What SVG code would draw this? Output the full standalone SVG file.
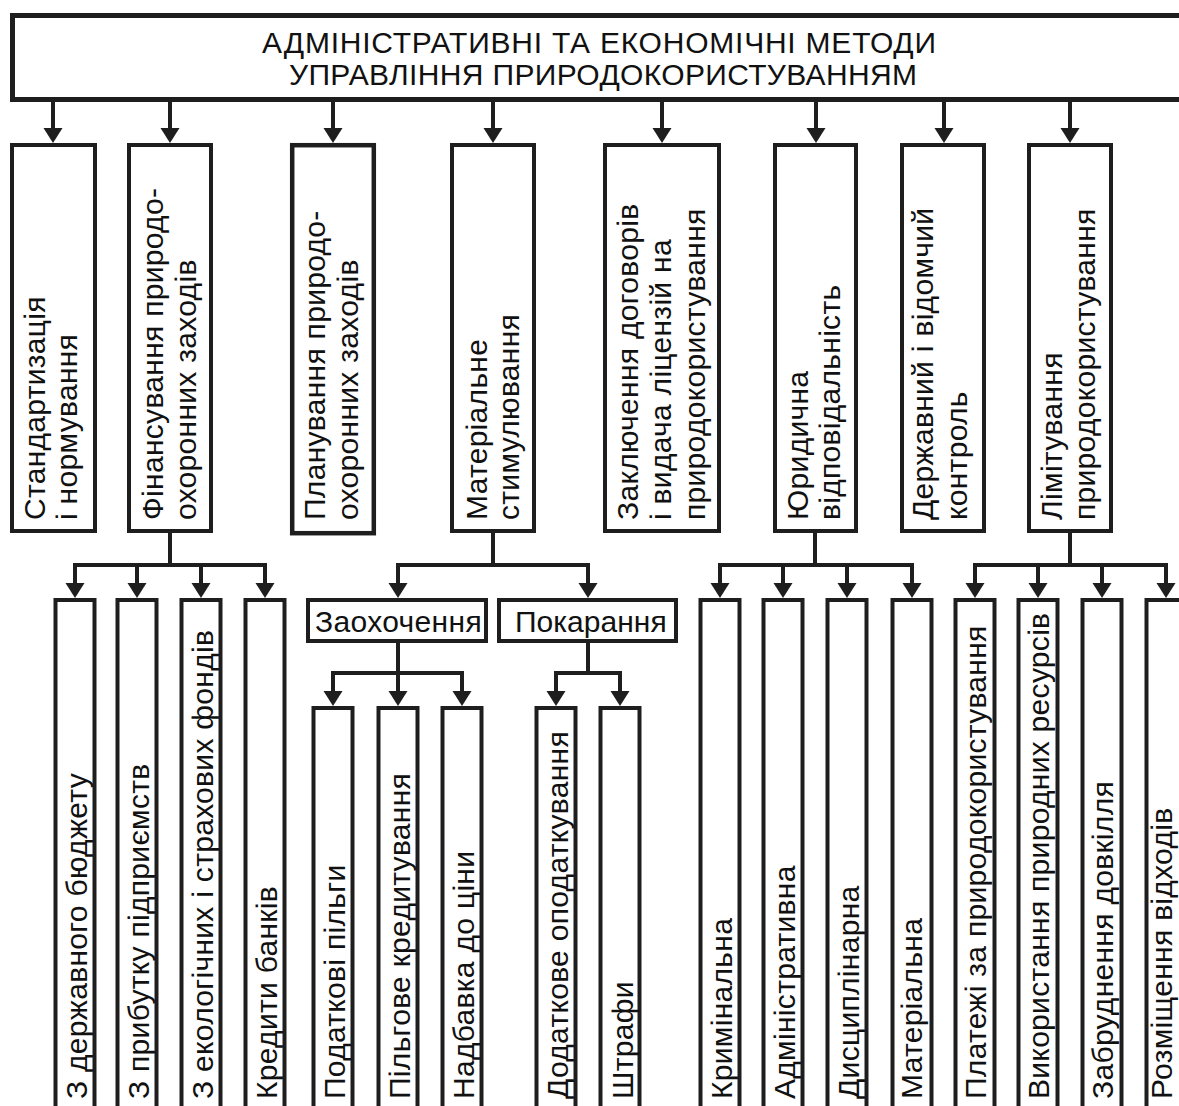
<svg xmlns="http://www.w3.org/2000/svg" width="1179" height="1106" viewBox="0 0 1179 1106">
<defs>
<style>
.bx{fill:#fff;stroke:#1e1e1e;stroke-width:4}
.hd{fill:#fff;stroke:#1e1e1e;stroke-width:5}
.ln{fill:none;stroke:#1e1e1e;stroke-width:4}
.bar{fill:none;stroke:#1e1e1e;stroke-width:4;stroke-linecap:square}
.ar{fill:none;stroke:#1e1e1e;stroke-width:4;marker-end:url(#ah)}
text{font-family:"Liberation Sans",Arial,sans-serif;fill:#111}
.t{font-size:30px;letter-spacing:0.3px}
.h{font-size:30px;text-anchor:middle}
</style>
<marker id="ah" viewBox="0 -10 16 20" refX="0" refY="0" markerWidth="16" markerHeight="20" markerUnits="userSpaceOnUse" orient="auto">
<path d="M0,-9.5 L15,0 L0,9.5 Z" fill="#1e1e1e"/>
</marker>
</defs>

<g id="header">
<rect class="hd" x="12.5" y="15.5" width="1200" height="84"/>
<text class="h" x="599" y="53" textLength="674" lengthAdjust="spacing">АДМІНІСТРАТИВНІ ТА ЕКОНОМІЧНІ МЕТОДИ</text>
<text class="h" x="603" y="85" textLength="628" lengthAdjust="spacing">УПРАВЛІННЯ ПРИРОДОКОРИСТУВАННЯМ</text>
</g>

<g id="n-standart">
<rect class="bx" x="12" y="145" width="83" height="386"/>
<text class="t" transform="translate(45,520) rotate(-90)">Стандартизація</text>
<text class="t" transform="translate(77,520) rotate(-90)">і нормування</text>
</g>
<g id="n-finans">
<rect class="bx" x="129" y="145" width="82" height="386"/>
<text class="t" transform="translate(163,520) rotate(-90)">Фінансування природо-</text>
<text class="t" transform="translate(196,520) rotate(-90)">охоронних заходів</text>
</g>
<g id="n-planuv">
<rect class="bx" x="292.2" y="145.2" width="81.6" height="388" style="stroke-width:4.5"/>
<text class="t" transform="translate(325,520) rotate(-90)">Планування природо-</text>
<text class="t" transform="translate(358,520) rotate(-90)">охоронних заходів</text>
</g>
<g id="n-mater">
<rect class="bx" x="452" y="145" width="82" height="386"/>
<text class="t" transform="translate(487,520) rotate(-90)">Матеріальне</text>
<text class="t" transform="translate(519,520) rotate(-90)">стимулювання</text>
</g>
<g id="n-zaklyuch">
<rect class="bx" x="605" y="145" width="114" height="386"/>
<text class="t" transform="translate(638,520) rotate(-90)">Заключення договорів</text>
<text class="t" transform="translate(671,520) rotate(-90)">і видача ліцензій на</text>
<text class="t" transform="translate(705,520) rotate(-90)">природокористування</text>
</g>
<g id="n-yuryd">
<rect class="bx" x="775" y="145" width="81" height="386"/>
<text class="t" transform="translate(808,520) rotate(-90)">Юридична</text>
<text class="t" transform="translate(840,520) rotate(-90)">відповідальність</text>
</g>
<g id="n-derzh">
<rect class="bx" x="902" y="145" width="82" height="386"/>
<text class="t" transform="translate(933,520) rotate(-90)">Державний і відомчий</text>
<text class="t" transform="translate(967,520) rotate(-90)">контроль</text>
</g>
<g id="n-limit">
<rect class="bx" x="1029" y="145" width="82" height="386"/>
<text class="t" transform="translate(1062,520) rotate(-90)">Лімітування</text>
<text class="t" transform="translate(1095,520) rotate(-90)">природокористування</text>
</g>

<g id="n-zaohoch">
<rect class="bx" x="308" y="600" width="178" height="41"/>
<text class="t" x="315" y="632" textLength="167" lengthAdjust="spacing">Заохочення</text>
</g>
<g id="n-pokar">
<rect class="bx" x="499" y="600" width="177" height="41"/>
<text class="t" x="515" y="632" textLength="152" lengthAdjust="spacing">Покарання</text>
</g>

<g id="n-b1"><rect class="bx" x="55.5" y="600" width="39" height="530"/><text class="t" transform="translate(87,1099) rotate(-90)">З державного бюджету</text></g>
<g id="n-b2"><rect class="bx" x="117.5" y="600" width="39" height="530"/><text class="t" transform="translate(149,1099) rotate(-90)">З прибутку підприємств</text></g>
<g id="n-b3"><rect class="bx" x="181.5" y="600" width="39" height="530"/><text class="t" transform="translate(213,1099) rotate(-90)">З екологічних і страхових фондів</text></g>
<g id="n-b4"><rect class="bx" x="245.5" y="600" width="39" height="530"/><text class="t" transform="translate(277,1099) rotate(-90)">Кредити банків</text></g>
<g id="n-b5"><rect class="bx" x="313.5" y="708" width="39" height="430"/><text class="t" transform="translate(345,1099) rotate(-90)">Податкові пільги</text></g>
<g id="n-b6"><rect class="bx" x="378.5" y="708" width="39" height="430"/><text class="t" transform="translate(410,1099) rotate(-90)">Пільгове кредитування</text></g>
<g id="n-b7"><rect class="bx" x="442.5" y="708" width="39" height="430"/><text class="t" transform="translate(474,1099) rotate(-90)">Надбавка до ціни</text></g>
<g id="n-b8"><rect class="bx" x="536.5" y="708" width="39" height="430"/><text class="t" transform="translate(568,1099) rotate(-90)">Додаткове оподаткування</text></g>
<g id="n-b9"><rect class="bx" x="600.5" y="708" width="39" height="430"/><text class="t" transform="translate(633,1099) rotate(-90)">Штрафи</text></g>
<g id="n-b10"><rect class="bx" x="700.5" y="600" width="39" height="530"/><text class="t" transform="translate(732,1099) rotate(-90)">Кримінальна</text></g>
<g id="n-b11"><rect class="bx" x="763.5" y="600" width="39" height="530"/><text class="t" transform="translate(795,1099) rotate(-90)">Адміністративна</text></g>
<g id="n-b12"><rect class="bx" x="827.5" y="600" width="39" height="530"/><text class="t" transform="translate(859,1099) rotate(-90)">Дисциплінарна</text></g>
<g id="n-b13"><rect class="bx" x="892.5" y="600" width="39" height="530"/><text class="t" transform="translate(922,1099) rotate(-90)">Матеріальна</text></g>
<g id="n-b14"><rect class="bx" x="955.5" y="600" width="39" height="530"/><text class="t" transform="translate(986,1099) rotate(-90)">Платежі за природокористування</text></g>
<g id="n-b15"><rect class="bx" x="1018.5" y="600" width="39" height="530"/><text class="t" transform="translate(1049,1099) rotate(-90)">Використання природних ресурсів</text></g>
<g id="n-b16"><rect class="bx" x="1082.5" y="600" width="39" height="530"/><text class="t" transform="translate(1113,1099) rotate(-90)">Забруднення довкілля</text></g>
<g id="n-b17"><rect class="bx" x="1146.5" y="600" width="39" height="530"/><text class="t" transform="translate(1172,1099) rotate(-90)">Розміщення відходів</text></g>

<g id="connectors">
<line class="ar" x1="53" y1="100" x2="53" y2="128"/>
<line class="ar" x1="170" y1="100" x2="170" y2="128"/>
<line class="ar" x1="333" y1="100" x2="333" y2="128"/>
<line class="ar" x1="493" y1="100" x2="493" y2="128"/>
<line class="ar" x1="662" y1="100" x2="662" y2="128"/>
<line class="ar" x1="816" y1="100" x2="816" y2="128"/>
<line class="ar" x1="944" y1="100" x2="944" y2="128"/>
<line class="ar" x1="1070" y1="100" x2="1070" y2="128"/>

<line class="ln" x1="170" y1="533" x2="170" y2="565"/>
<line class="bar" x1="75" y1="565" x2="265" y2="565"/>
<line class="ar" x1="75" y1="565" x2="75" y2="583"/>
<line class="ar" x1="137" y1="565" x2="137" y2="583"/>
<line class="ar" x1="201" y1="565" x2="201" y2="583"/>
<line class="ar" x1="265" y1="565" x2="265" y2="583"/>

<line class="ln" x1="493" y1="533" x2="493" y2="565"/>
<line class="bar" x1="398" y1="565" x2="588" y2="565"/>
<line class="ar" x1="398" y1="565" x2="398" y2="583"/>
<line class="ar" x1="588" y1="565" x2="588" y2="583"/>

<line class="ln" x1="398" y1="643" x2="398" y2="673"/>
<line class="bar" x1="333" y1="673" x2="462" y2="673"/>
<line class="ar" x1="333" y1="673" x2="333" y2="691"/>
<line class="ar" x1="398" y1="673" x2="398" y2="691"/>
<line class="ar" x1="462" y1="673" x2="462" y2="691"/>

<line class="ln" x1="588" y1="643" x2="588" y2="673"/>
<line class="bar" x1="556" y1="673" x2="620" y2="673"/>
<line class="ar" x1="556" y1="673" x2="556" y2="691"/>
<line class="ar" x1="620" y1="673" x2="620" y2="691"/>

<line class="ln" x1="815" y1="533" x2="815" y2="565"/>
<line class="bar" x1="720" y1="565" x2="912" y2="565"/>
<line class="ar" x1="720" y1="565" x2="720" y2="583"/>
<line class="ar" x1="783" y1="565" x2="783" y2="583"/>
<line class="ar" x1="847" y1="565" x2="847" y2="583"/>
<line class="ar" x1="912" y1="565" x2="912" y2="583"/>

<line class="ln" x1="1070" y1="533" x2="1070" y2="565"/>
<line class="bar" x1="975" y1="565" x2="1166" y2="565"/>
<line class="ar" x1="975" y1="565" x2="975" y2="583"/>
<line class="ar" x1="1038" y1="565" x2="1038" y2="583"/>
<line class="ar" x1="1102" y1="565" x2="1102" y2="583"/>
<line class="ar" x1="1166" y1="565" x2="1166" y2="583"/>
</g>
</svg>
